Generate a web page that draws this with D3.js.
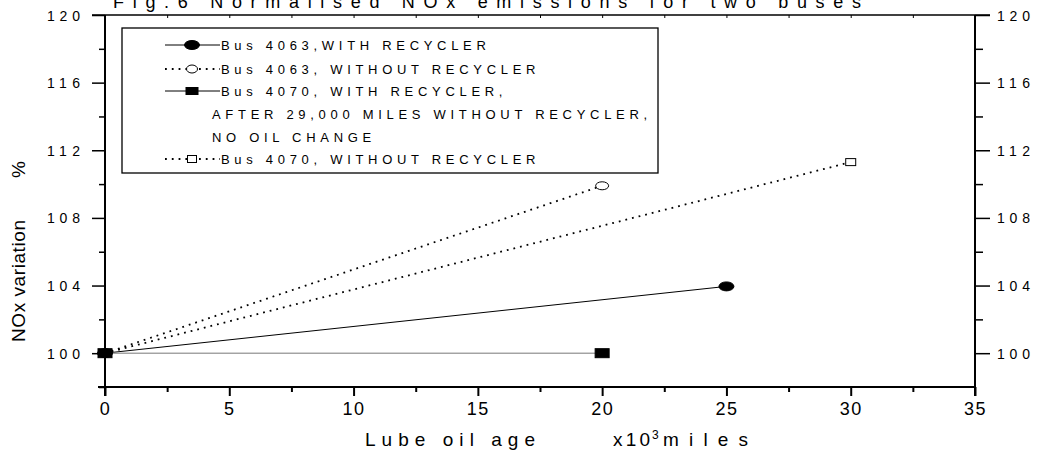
<!DOCTYPE html>
<html>
<head>
<meta charset="utf-8">
<script src="https://cdn.jsdelivr.net/npm/d3@7"></script>
<style>
  html, body { margin: 0; padding: 0; background: #fff; }
  svg { display: block; font-family: "Liberation Sans", Arial, sans-serif; }
</style>
</head>
<body>
<svg id="chart" width="1039" height="454"></svg>
<script>
// ---- data ----
const titleText = "Fig.6  Normalised  NOx emissions for two buses";
const xTickValues = [0, 5, 10, 15, 20, 25, 30, 35];
const yTickValues = [100, 104, 108, 112, 116, 120];
const xMinorValues = [2.5, 7.5, 12.5, 17.5, 22.5, 27.5, 32.5];
const yMinorValues = [98, 102, 106, 110, 114, 118];
const topTickValues = [2.5, 5, 7.5, 10, 12.5, 15, 17.5, 20, 22.5, 25, 27.5, 30, 32.5];

const bus4063WithX = [0, 25];
const bus4063WithY = [100, 103.95];
const bus4063WithoutX = [0, 20];
const bus4063WithoutY = [100, 109.9];
const bus4070WithX = [0, 20];
const bus4070WithY = [100, 100];
const bus4070WithoutX = [0, 30];
const bus4070WithoutY = [100, 111.3];

const legendLines = [
  "Bus 4063,WITH RECYCLER",
  "Bus 4063, WITHOUT RECYCLER",
  "Bus 4070, WITH RECYCLER,",
  "AFTER 29,000 MILES WITHOUT RECYCLER,",
  "NO OIL CHANGE",
  "Bus 4070, WITHOUT RECYCLER"
];

// ---- setup ----
const svg = d3.select("#chart");
const x = d3.scaleLinear().domain([0, 35]).range([105, 975]);
const y = d3.scaleLinear().domain([98, 120]).range([387, 15]);

const series = [
  { xs: bus4063WithX, ys: bus4063WithY, dash: null, color: "#000", marker: "circle", fill: "#000", rx: 7.5, ry: 4.5 },
  { xs: bus4063WithoutX, ys: bus4063WithoutY, dash: "1.8,5", color: "#000", marker: "circle", fill: "#fff", rx: 6.5, ry: 4 },
  { xs: bus4070WithoutX, ys: bus4070WithoutY, dash: "1.8,5", color: "#000", marker: "square", fill: "#fff", w: 10, h: 7 },
  { xs: bus4070WithX, ys: bus4070WithY, dash: null, color: "#777", marker: "square", fill: "#000", w: 14, h: 9 }
];

function drawMarker(g, s, cx, cy) {
  if (s.marker === "circle") {
    g.append("ellipse").attr("cx", cx).attr("cy", cy).attr("rx", s.rx).attr("ry", s.ry)
      .attr("fill", s.fill).attr("stroke", "#000").attr("stroke-width", 1);
  } else {
    g.append("rect").attr("x", cx - s.w / 2).attr("y", cy - s.h / 2).attr("width", s.w).attr("height", s.h)
      .attr("fill", s.fill).attr("stroke", "#000").attr("stroke-width", 1);
  }
}

// ---- title ----
svg.append("text").attr("x", 113).attr("y", 8)
  .attr("font-size", 18).attr("textLength", 748).attr("lengthAdjust", "spacing")
  .text(titleText);

// ---- axes ----
function styleAxis(g) {
  g.select(".domain").remove();
  g.selectAll(".tick line").attr("stroke", "#000").attr("stroke-width", 1.5);
}

// left
const gLeft = svg.append("g").attr("transform", "translate(105,0)")
  .call(d3.axisLeft(y).tickValues(yTickValues).tickSize(13).tickFormat(d3.format("d")));
styleAxis(gLeft);
gLeft.selectAll(".tick text").attr("x", -58).attr("dy", "0.36em").attr("text-anchor", "start")
  .attr("font-size", 14).attr("fill", "#000").attr("textLength", 33).attr("lengthAdjust", "spacing")
  .attr("font-family", null);
const gLeftMinor = svg.append("g").attr("transform", "translate(105,0)")
  .call(d3.axisLeft(y).tickValues(yMinorValues).tickSize(6).tickFormat(""));
styleAxis(gLeftMinor);

// right
const gRight = svg.append("g").attr("transform", "translate(975,0)")
  .call(d3.axisRight(y).tickValues(yTickValues).tickSize(15).tickFormat(d3.format("d")));
styleAxis(gRight);
gRight.selectAll(".tick text").attr("x", 22).attr("dy", "0.36em").attr("text-anchor", "start")
  .attr("font-size", 14).attr("fill", "#000").attr("textLength", 33).attr("lengthAdjust", "spacing")
  .attr("font-family", null);
const gRightMinor = svg.append("g").attr("transform", "translate(975,0)")
  .call(d3.axisRight(y).tickValues(yMinorValues.filter(v => v > 98)).tickSize(8).tickFormat(""));
styleAxis(gRightMinor);

// bottom
const gBottom = svg.append("g").attr("transform", "translate(0,387)")
  .call(d3.axisBottom(x).tickValues(xTickValues).tickSize(9).tickFormat(d3.format("d")));
styleAxis(gBottom);
gBottom.selectAll(".tick line").attr("stroke-width", 2);
gBottom.selectAll(".tick text").attr("y", 28).attr("dy", null)
  .attr("font-size", 18).attr("fill", "#000").attr("letter-spacing", "1.5px")
  .attr("font-family", null);
const gBottomMinor = svg.append("g").attr("transform", "translate(0,387)")
  .call(d3.axisBottom(x).tickValues(xMinorValues).tickSize(5).tickFormat(""));
styleAxis(gBottomMinor);
gBottomMinor.selectAll(".tick line").attr("stroke-width", 2);

// top
const gTop = svg.append("g").attr("transform", "translate(0,15)")
  .call(d3.axisBottom(x).tickValues(topTickValues).tickSize(3).tickFormat(""));
styleAxis(gTop);
gTop.selectAll(".tick line").attr("stroke-width", 1);

// axis lines (frame)
svg.append("line").attr("x1", 92).attr("x2", 990).attr("y1", 15).attr("y2", 15)
  .attr("stroke", "#000").attr("stroke-width", 1.3);
svg.append("line").attr("x1", 98).attr("x2", 976).attr("y1", 387).attr("y2", 387)
  .attr("stroke", "#000").attr("stroke-width", 2);
svg.append("line").attr("x1", 105).attr("x2", 105).attr("y1", 15).attr("y2", 396)
  .attr("stroke", "#000").attr("stroke-width", 2);
svg.append("line").attr("x1", 975).attr("x2", 975).attr("y1", 15).attr("y2", 396)
  .attr("stroke", "#000").attr("stroke-width", 2);

// ---- axis titles ----
svg.append("text").attr("x", 365).attr("y", 446).attr("font-size", 19)
  .attr("textLength", 170).attr("lengthAdjust", "spacing").text("Lube oil age");
const xt = svg.append("text").attr("y", 446).attr("font-size", 19);
xt.append("tspan").attr("x", 613).attr("textLength", 37).attr("lengthAdjust", "spacing").text("x10");
xt.append("tspan").attr("x", 652).attr("dy", -7).attr("font-size", 12).text("3");
xt.append("tspan").attr("x", 663).attr("dy", 7).attr("textLength", 85).attr("lengthAdjust", "spacing").text("miles");

svg.append("text").attr("transform", "translate(25,342) rotate(-90)").attr("font-size", 19)
  .attr("textLength", 122).attr("lengthAdjust", "spacing").text("NOx variation");
svg.append("text").attr("transform", "translate(25,178) rotate(-90)").attr("font-size", 19)
  .text("%");

// ---- data lines ----
const line = d3.line().x(d => x(d[0])).y(d => y(d[1]));
const gData = svg.append("g");
series.forEach(s => {
  const pts = s.xs.map((v, i) => [v, s.ys[i]]);
  gData.append("path").attr("d", line(pts)).attr("fill", "none")
    .attr("stroke", s.color).attr("stroke-width", s.dash ? 1.8 : 1)
    .attr("stroke-dasharray", s.dash);
});
series.forEach(s => {
  s.xs.forEach((v, i) => drawMarker(gData, s, x(v), y(s.ys[i])));
});

// ---- legend ----
const lg = svg.append("g");
lg.append("rect").attr("x", 122).attr("y", 28).attr("width", 536).attr("height", 145)
  .attr("fill", "#fff").attr("stroke", "#000").attr("stroke-width", 1.3);
const legendRows = [
  { text: legendLines[0], cy: 45, s: { dash: null, marker: "circle", fill: "#000", rx: 7.5, ry: 4.5 } },
  { text: legendLines[1], cy: 69, s: { dash: "1.8,5", marker: "circle", fill: "#fff", rx: 5.5, ry: 4 } },
  { text: legendLines[2], cy: 91, s: { dash: null, marker: "square", fill: "#000", w: 12, h: 7 } },
  { text: legendLines[3], cy: 114, s: null },
  { text: legendLines[4], cy: 137, s: null },
  { text: legendLines[5], cy: 159, s: { dash: "1.8,5", marker: "square", fill: "#fff", w: 9, h: 7 } }
];
legendRows.forEach(r => {
  if (r.s) {
    lg.append("line").attr("x1", 165).attr("x2", 220).attr("y1", r.cy).attr("y2", r.cy)
      .attr("stroke", "#000").attr("stroke-width", r.s.dash ? 1.8 : 1)
      .attr("stroke-dasharray", r.s.dash);
    drawMarker(lg, r.s, 192, r.cy);
  }
  lg.append("text").attr("x", r.s ? 221 : 212).attr("y", r.cy + 4.7)
    .attr("font-size", 13).attr("letter-spacing", "4.7px").text(r.text);
});
</script>
</body>
</html>
